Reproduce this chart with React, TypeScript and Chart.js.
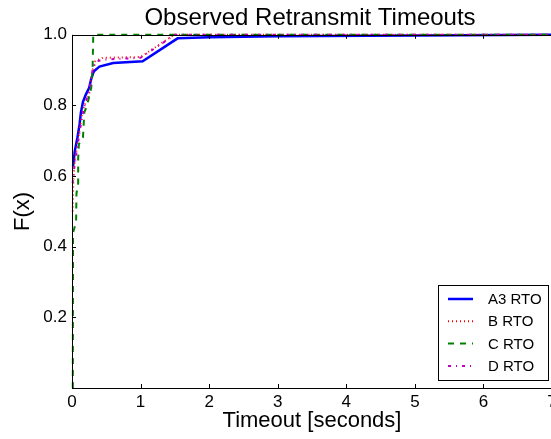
import React, { useEffect, useRef } from "react";
import { Chart, registerables } from "chart.js";

Chart.register(...registerables);

const TITLE = "Observed Retransmit Timeouts";
const X_LABEL = "Timeout [seconds]";
const Y_LABEL = "F(x)";
const X_TICKS = [0, 1, 2, 3, 4, 5, 6, 7];
const X_TICK_LABELS = ["0", "1", "2", "3", "4", "5", "6", "7"];
const Y_TICKS = [0.2, 0.4, 0.6, 0.8, 1.0];
const Y_TICK_LABELS = ["0.2", "0.4", "0.6", "0.8", "1.0"];

const SERIES_NAMES = ["A3 RTO", "B RTO", "C RTO", "D RTO"];

const A3_X = [0.015, 0.04, 0.08, 0.11, 0.13, 0.16, 0.2, 0.25, 0.28, 0.32, 0.4, 0.6, 1.03, 1.54, 2, 3, 5, 7];
const A3_Y = [0.627, 0.67, 0.71, 0.746, 0.78, 0.81, 0.83, 0.85, 0.875, 0.897, 0.91, 0.92, 0.925, 0.99, 0.993, 0.996, 0.998, 1.0];

const B_X = [0.01, 0.02, 0.04, 0.07, 0.1, 0.15, 0.2, 0.25, 0.3, 0.34, 0.45, 1.0, 1.49, 7];
const B_Y = [0.5, 0.59, 0.64, 0.68, 0.72, 0.78, 0.81, 0.83, 0.9, 0.925, 0.935, 0.937, 1.0, 1.0];

const C_X = [0.012, 0.015, 0.06, 0.065, 0.09, 0.09, 0.1, 0.16, 0.18, 0.22, 0.28, 0.3, 0.31, 7];
const C_Y = [0.0, 0.44, 0.47, 0.55, 0.58, 0.65, 0.69, 0.71, 0.78, 0.8, 0.85, 0.9, 1.0, 1.0];

const D_X = [0.01, 0.03, 0.06, 0.1, 0.15, 0.2, 0.25, 0.3, 0.35, 0.5, 1.0, 1.5, 7];
const D_Y = [0.58, 0.62, 0.66, 0.71, 0.77, 0.81, 0.84, 0.9, 0.925, 0.93, 0.935, 1.0, 1.0];

const FONT = "'Liberation Sans', Arial, sans-serif";

const toPoints = (xs: number[], ys: number[]) => xs.map((x, i) => ({ x, y: ys[i] }));

const framePlugin = {
  id: "mplFrame",
  afterDatasetsDraw(chart: any) {
    const { ctx, chartArea } = chart;
    const { left, right, top, bottom } = chartArea;
    const xs = chart.scales.x;
    const ys = chart.scales.y;
    ctx.save();
    ctx.strokeStyle = "#000";
    ctx.lineWidth = 1;
    ctx.setLineDash([]);
    ctx.strokeRect(Math.round(left) + 0.5, Math.round(top) + 0.5, Math.round(right - left), Math.round(bottom - top));
    const tl = 4;
    ctx.beginPath();
    X_TICKS.forEach((v) => {
      const px = Math.round(xs.getPixelForValue(v)) + 0.5;
      ctx.moveTo(px, bottom);
      ctx.lineTo(px, bottom - tl);
      ctx.moveTo(px, top);
      ctx.lineTo(px, top + tl);
    });
    Y_TICKS.forEach((v) => {
      const py = Math.round(ys.getPixelForValue(v)) + 0.5;
      ctx.moveTo(left, py);
      ctx.lineTo(left + tl, py);
    });
    ctx.stroke();

    // legend
    const bx = right - 114;
    const by = bottom - 103;
    const bw = 110;
    const bh = 95;
    ctx.fillStyle = "#fff";
    ctx.fillRect(bx, by, bw, bh);
    ctx.strokeStyle = "#000";
    ctx.lineWidth = 1;
    ctx.strokeRect(Math.round(bx) + 0.5, Math.round(by) + 0.5, bw, bh);
    ctx.font = `15px ${FONT}`;
    ctx.textBaseline = "middle";
    ctx.textAlign = "left";
    chart.data.datasets.forEach((ds: any, i: number) => {
      const ry = by + 14 + i * 22.3;
      ctx.save();
      ctx.strokeStyle = ds.borderColor;
      ctx.lineWidth = ds.borderWidth;
      ctx.lineCap = "butt";
      ctx.setLineDash(ds.borderDash || []);
      ctx.beginPath();
      ctx.moveTo(bx + 10, ry);
      ctx.lineTo(bx + 35, ry);
      ctx.stroke();
      ctx.restore();
      ctx.fillStyle = "#000";
      ctx.fillText(ds.label, bx + 50, ry + 1);
    });
    ctx.restore();
  },
};

export default function App() {
  const ref = useRef<HTMLCanvasElement | null>(null);
  useEffect(() => {
    if (!ref.current) return;
    Chart.defaults.font.family = FONT;
    const chart = new Chart(ref.current, {
      type: "line",
      data: {
        datasets: [
          {
            label: SERIES_NAMES[0],
            data: toPoints(A3_X, A3_Y),
            borderColor: "#0000ff",
            borderWidth: 2.5,
            borderDash: [],
            order: 4,
          },
          {
            label: SERIES_NAMES[1],
            data: toPoints(B_X, B_Y),
            borderColor: "#ff0000",
            borderWidth: 2,
            borderDash: [1, 3],
            order: 3,
          },
          {
            label: SERIES_NAMES[2],
            data: toPoints(C_X, C_Y),
            borderColor: "#008000",
            borderWidth: 2,
            borderDash: [6, 6],
            order: 2,
          },
          {
            label: SERIES_NAMES[3],
            data: toPoints(D_X, D_Y),
            borderColor: "#bf00bf",
            borderWidth: 2,
            borderDash: [3, 5, 1, 5],
            order: 1,
          },
        ] as any,
      },
      options: {
        responsive: false,
        animation: false,
        clip: 3 as any,
        layout: { padding: 0 },
        elements: {
          point: { radius: 0 },
          line: { tension: 0, fill: false, borderCapStyle: "butt" },
        },
        plugins: {
          legend: { display: false },
          tooltip: { enabled: false },
          title: {
            display: true,
            text: TITLE,
            color: "#000",
            font: { size: 24, weight: "normal", family: FONT },
            padding: { top: 4, bottom: 2 },
          },
        },
        scales: {
          x: {
            type: "linear",
            min: 0,
            max: 7,
            afterBuildTicks: (s: any) => {
              s.ticks = X_TICKS.map((v) => ({ value: v }));
            },
            afterFit: (s: any) => {
              s.height = 51;
            },
            ticks: {
              color: "#000",
              font: { size: 17, family: FONT },
              padding: 4,
              maxRotation: 0,
              autoSkip: false,
              callback: (v: any) => X_TICK_LABELS[X_TICKS.indexOf(Number(v))] ?? "",
            },
            grid: { display: false, drawTicks: false },
            border: { display: false },
            title: {
              display: true,
              text: X_LABEL,
              color: "#000",
              font: { size: 22, family: FONT },
              padding: { top: 0, bottom: 5 },
            },
          },
          y: {
            type: "linear",
            min: 0,
            max: 1,
            afterBuildTicks: (s: any) => {
              s.ticks = Y_TICKS.map((v) => ({ value: v }));
            },
            afterFit: (s: any) => {
              s.width = 72;
            },
            ticks: {
              color: "#000",
              font: { size: 17, family: FONT },
              padding: 5,
              autoSkip: false,
              callback: (v: any) => {
                const idx = Y_TICKS.findIndex((t) => Math.abs(t - Number(v)) < 1e-9);
                return idx >= 0 ? Y_TICK_LABELS[idx] : "";
              },
            },
            grid: { display: false, drawTicks: false },
            border: { display: false },
            title: {
              display: true,
              text: Y_LABEL,
              color: "#000",
              font: { size: 22, family: FONT },
              padding: { top: 10, bottom: 0 },
            },
          },
          yRight: {
            type: "linear",
            position: "right",
            min: 0,
            max: 1,
            display: true,
            afterFit: (s: any) => {
              s.width = 68;
            },
            ticks: { display: false },
            grid: { display: false, drawTicks: false },
            border: { display: false },
          },
        },
      } as any,
      plugins: [framePlugin],
    });
    return () => chart.destroy();
  }, []);

  return (
    <div
      style={{
        position: "fixed",
        left: 0,
        top: 0,
        width: 551,
        height: 439,
        overflow: "hidden",
        background: "#fff",
      }}
    >
      <canvas ref={ref} width={620} height={439} style={{ display: "block", width: 620, height: 439 }} />
    </div>
  );
}
